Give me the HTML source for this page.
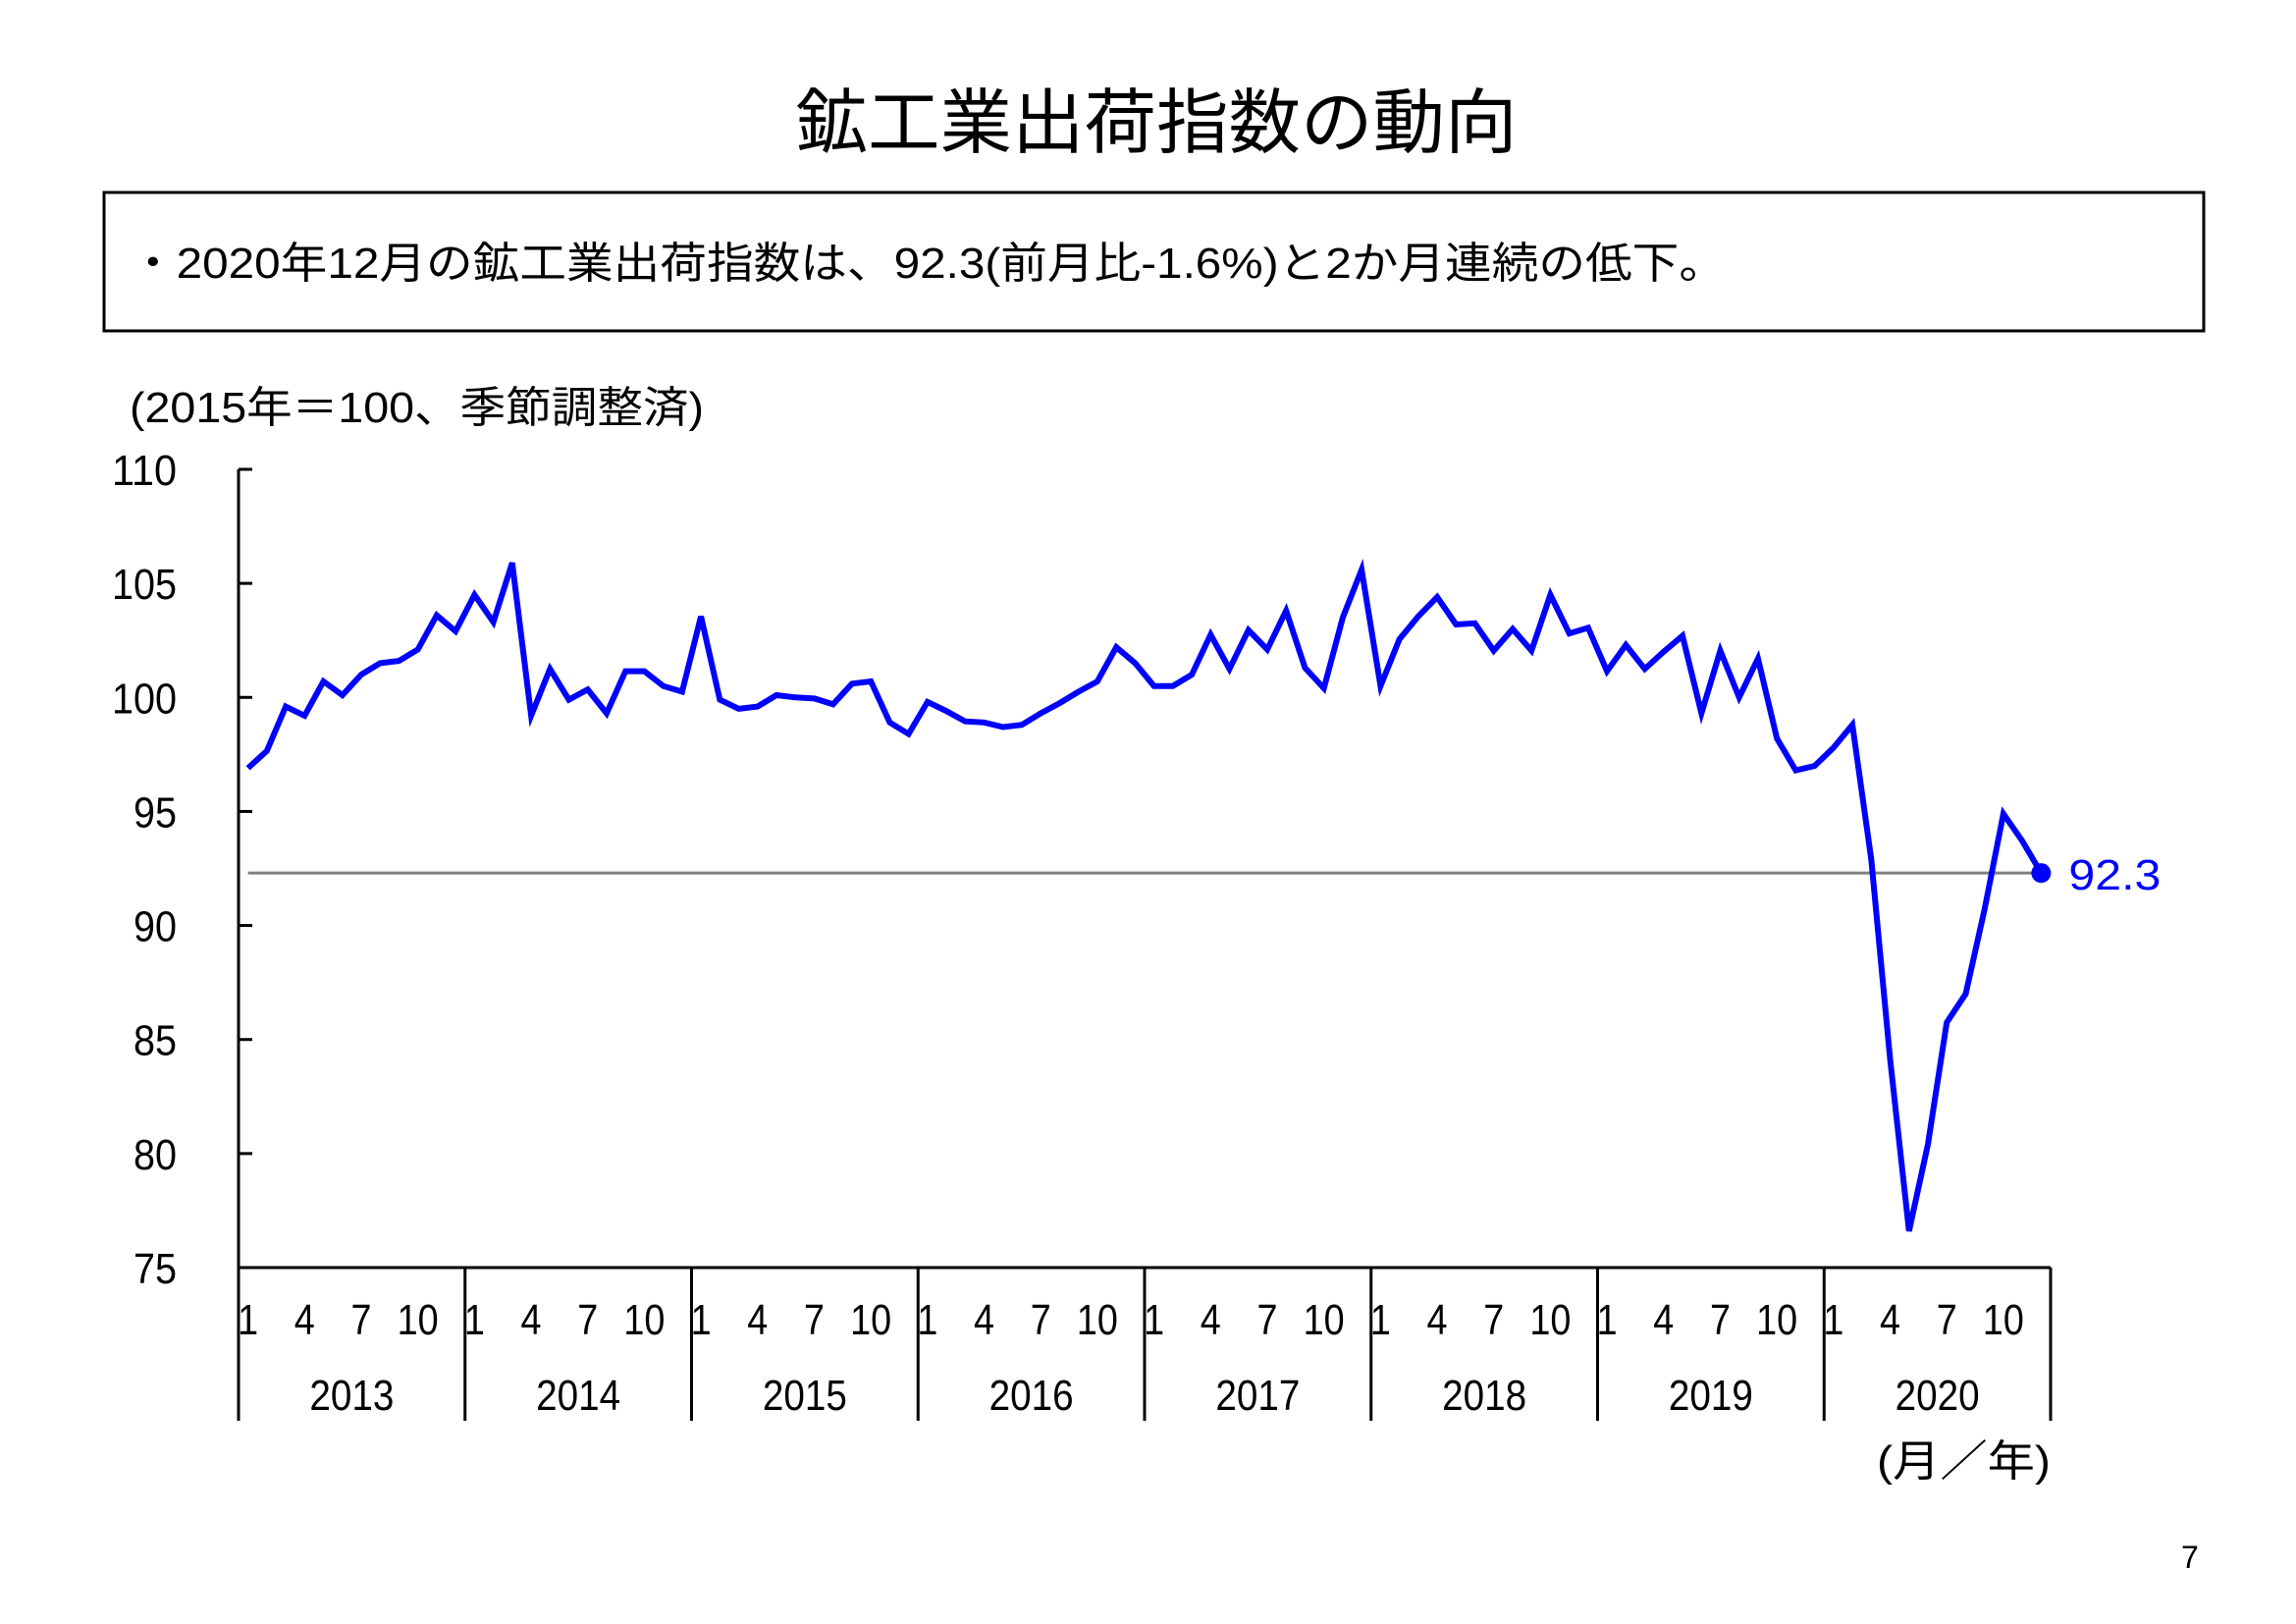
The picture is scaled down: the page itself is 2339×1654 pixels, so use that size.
<!DOCTYPE html>
<html><head><meta charset="utf-8">
<style>
html,body{margin:0;padding:0;background:#fff;}
svg{display:block;}
text{font-family:"Liberation Sans","Noto Sans CJK JP",sans-serif;}
</style></head>
<body>
<svg id="chart" width="2339" height="1654" viewBox="0 0 2339 1654" xmlns="http://www.w3.org/2000/svg">
<text x="1178" y="150" font-size="72" text-anchor="middle" textLength="735" lengthAdjust="spacingAndGlyphs">鉱工業出荷指数の動向</text>
<rect x="106" y="196" width="2139" height="141" fill="none" stroke="#000" stroke-width="3"/>
<text x="132" y="283" font-size="44" textLength="1626" lengthAdjust="spacingAndGlyphs">・2020年12月の鉱工業出荷指数は、92.3(前月比-1.6%)と2か月連続の低下。</text>
<text x="132" y="430" font-size="44" textLength="585" lengthAdjust="spacingAndGlyphs">(2015年＝100、季節調整済)</text>
<g id="axes"></g>
<g id="series"></g>
<text x="1912" y="1503" font-size="44" textLength="177" lengthAdjust="spacingAndGlyphs">(月／年)</text>
<text x="2222" y="1597" font-size="32">7</text>
</svg>
<script>
const years = ["2013","2014","2015","2016","2017","2018","2019","2020"];
const monthTicks = ["1","4","7","10"];
const yTicks = [75,80,85,90,95,100,105,110];
const values = [
96.9,97.65,99.6,99.2,100.7,100.1,101.0,101.5,101.6,102.1,103.6,102.9,
104.5,103.3,105.9,99.2,101.25,99.9,100.35,99.3,101.15,101.15,100.5,100.25,
103.55,99.9,99.5,99.6,100.1,100.0,99.95,99.7,100.6,100.7,98.9,98.4,
99.8,99.4,98.95,98.9,98.7,98.8,99.3,99.75,100.25,100.7,102.2,101.5,
100.5,100.5,101.0,102.75,101.25,102.95,102.1,103.8,101.3,100.4,103.5,105.6,
100.5,102.55,103.55,104.4,103.2,103.25,102.05,103.0,102.05,104.5,102.8,103.05,
101.15,102.3,101.25,102.0,102.7,99.3,102.05,100.0,101.7,98.2,96.8,97.0,
97.8,98.8,92.9,84.1,76.6,80.4,85.75,87.0,90.7,94.9,93.7,92.3
];
const refValue = 92.3;
const refLabel = "92.3";

const NS="http://www.w3.org/2000/svg";
const X0=243, X1=2089, YTOP=478, YBOT=1291, VMIN=75, VMAX=110;
const nMonths = years.length*12;
const step=(X1-X0)/nMonths;
function xm(i){return X0+step*(i+0.5);}
function yv(v){return YBOT-(v-VMIN)/(VMAX-VMIN)*(YBOT-YTOP);}
function mk(tag,attrs,parent,txt){const e=document.createElementNS(NS,tag);for(const k in attrs)e.setAttribute(k,attrs[k]);if(txt!==undefined)e.textContent=txt;parent.appendChild(e);return e;}
const axes=document.getElementById('axes'), series=document.getElementById('series');

let e=mk('line',{x1:X0,y1:YTOP,x2:X0,y2:YBOT,stroke:'#000','stroke-width':3},axes);


e=mk('line',{x1:X0,y1:YBOT,x2:X1,y2:YBOT,stroke:'#000','stroke-width':3},axes);


yTicks.forEach(t=>{
  const y=yv(t);
  const tk=mk('line',{x1:X0,y1:y,x2:X0+14,y2:y,stroke:'#000','stroke-width':3},axes);
  
  
  const lb=mk('text',{x:180,y:y+16,'font-size':44,'text-anchor':'end',textLength:String(t).length*22,lengthAdjust:'spacingAndGlyphs'},axes,String(t));
  
  
});
years.forEach((yr,k)=>{
  const xs=X0+k*12*step;
  const sep=mk('line',{x1:xs,y1:YBOT,x2:xs,y2:1447,stroke:'#000','stroke-width':3},axes);
  
  
  monthTicks.forEach(m=>{
    const i=k*12+(+m)-1;
    const t=mk('text',{x:xm(i),y:1359,'font-size':44,'text-anchor':'middle',textLength:m.length*21,lengthAdjust:'spacingAndGlyphs'},axes,m);
    
    
  });
  const yl=mk('text',{x:xs+6*step,y:1436,'font-size':44,'text-anchor':'middle',textLength:86,lengthAdjust:'spacingAndGlyphs'},axes,yr);
  
  
});
e=mk('line',{x1:X1,y1:YBOT,x2:X1,y2:1447,stroke:'#000','stroke-width':3},axes);



const ref=mk('line',{x1:xm(0),y1:yv(refValue),x2:xm(values.length-1),y2:yv(refValue),stroke:'#808080','stroke-width':3},series);


const pts=values.map((v,i)=>xm(i).toFixed(1)+','+yv(v).toFixed(1)).join(' ');
const pl=mk('polyline',{points:pts,fill:'none',stroke:'#0000ff','stroke-width':6,'stroke-linejoin':'miter'},series);


const li=values.length-1;
const dot=mk('circle',{cx:xm(li),cy:yv(values[li]),r:10,fill:'#0000ff'},series);


const vl=mk('text',{x:xm(li)+28,y:yv(values[li])+17,'font-size':44,fill:'#0000ff',textLength:94,lengthAdjust:'spacingAndGlyphs'},series,refLabel);


</script>
</body></html>
